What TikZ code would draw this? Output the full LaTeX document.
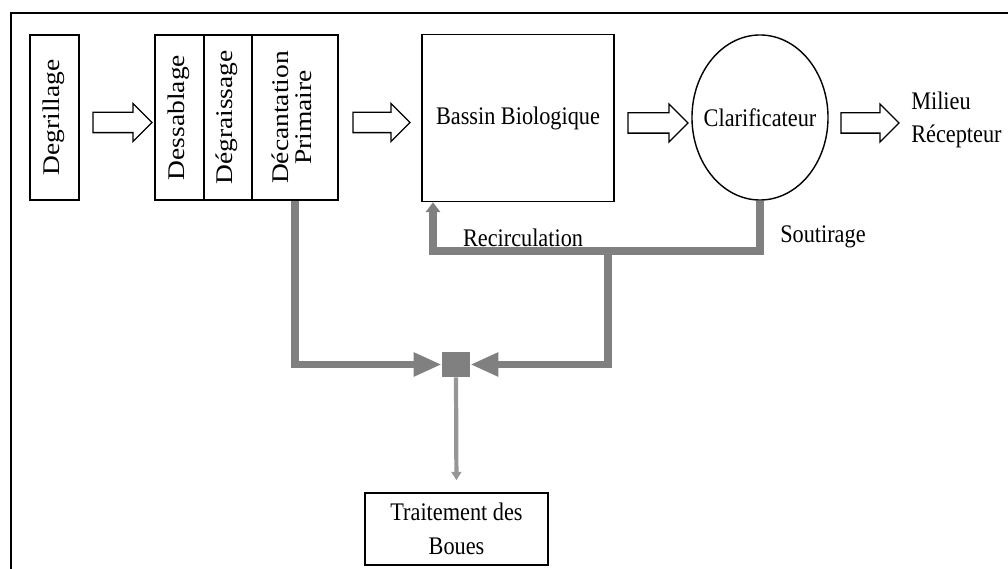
\documentclass[tikz,border=0pt]{standalone}
\usepackage{fontspec}
\usepackage{graphicx}
\usetikzlibrary{arrows.meta,shapes.geometric,shapes.arrows,positioning}
\newfontfamily\narrowrm[FakeStretch=0.88]{Liberation Serif}
\newfontfamily\widerm[FakeStretch=1.15]{Liberation Serif}
\definecolor{boue}{RGB}{128,128,128}
\definecolor{boue2}{RGB}{150,150,150}
\newcommand{\vtext}[1]{\rotatebox{90}{\begin{tabular}{@{}c@{}}#1\end{tabular}}}
\newcommand{\htext}{\narrowrm\fontsize{18}{24}\selectfont}

\begin{document}
\begin{tikzpicture}[x=0.025cm,y=-0.025cm,
		box/.style={draw,line width=1pt,inner sep=0pt,minimum height=4.125cm,font=\widerm\fontsize{17}{16}\selectfont},
		blk/.style={draw,single arrow,line width=0.9pt,inner xsep=0pt,inner ysep=0.2375cm,single arrow head extend=0.225cm},
		boue/.style={draw=boue,line width=5pt},
		lbl/.style={inner sep=0pt,font=\htext}]
	\useasboundingbox (0,0) rectangle (1008,569);
	\draw[line width=1.3pt] (11,569) -- (11,13) -- (1008,13);
	% pretraitement
	\node[box,minimum width=1.225cm] (degr) at (54.5,117.5) {\vtext{Degrillage}};
	\node[box,minimum width=1.225cm] (dess) at (179.5,117.5) {\vtext{Dessablage}};
	\node[box,minimum width=1.2cm] (degs) at (228,117.5) {\vtext{Dégraissage}};
	\node[box,minimum width=2.15cm] (deca) at (295,117.5) {\vtext{Décantation\\Primaire}};
	% traitement biologique
	\node[box,font=\htext,minimum width=4.8cm,minimum height=4.175cm] (bass) at (518,118) {Bassin Biologique};
	\node[draw,ellipse,line width=1pt,inner sep=0pt,minimum width=3.4cm,minimum height=4.125cm,font=\htext] (clar) at (760,117.5) {\makebox[0pt]{Clarificateur}};
	\node[lbl,align=left,anchor=west] (mil) at (911,120) {Milieu\\Récepteur};
	\node[blk,minimum height=1.475cm] (ar1) at (117.5,122.5) {};
	\node[blk,minimum height=1.425cm] (ar2) at (376.5,122.5) {};
	\node[blk,minimum height=1.5cm] (ar3) at (653,123) {};
	\node[blk,minimum height=1.45cm] (ar4) at (865,123) {};
	% boues
	\coordinate (rec) at (433,251);
	\coordinate (brk) at (608,251);
	\node[fill=boue,inner sep=0pt,minimum width=0.7cm,minimum height=0.625cm] (junc) at (456,364.5) {};
	\node[box,font=\htext,align=center,minimum width=4.575cm,minimum height=1.8cm] (trait) at (456.5,529) {Traitement des\\Boues};
	\draw[boue,-{Triangle[length=7pt,width=10pt]}] (clar.south) -- (clar.south |- rec) -- (rec) -- (rec |- bass.south);
	\draw[boue,-{Triangle[length=20pt,width=16pt]}] (brk) |- (junc.east);
	\draw[boue,-{Triangle[length=20pt,width=16pt]}] (deca.south) |- (junc.west);
	\draw[draw=boue2,line width=3pt,shorten >=0.3cm,-{Triangle[length=6pt,width=7pt]}] (junc.south) -- (trait.north);
	\node[lbl] (reclab) at (523,238) {Recirculation};
	\node[lbl,anchor=west] (soulab) at (780,237) {Soutirage};
\end{tikzpicture}
\end{document}
